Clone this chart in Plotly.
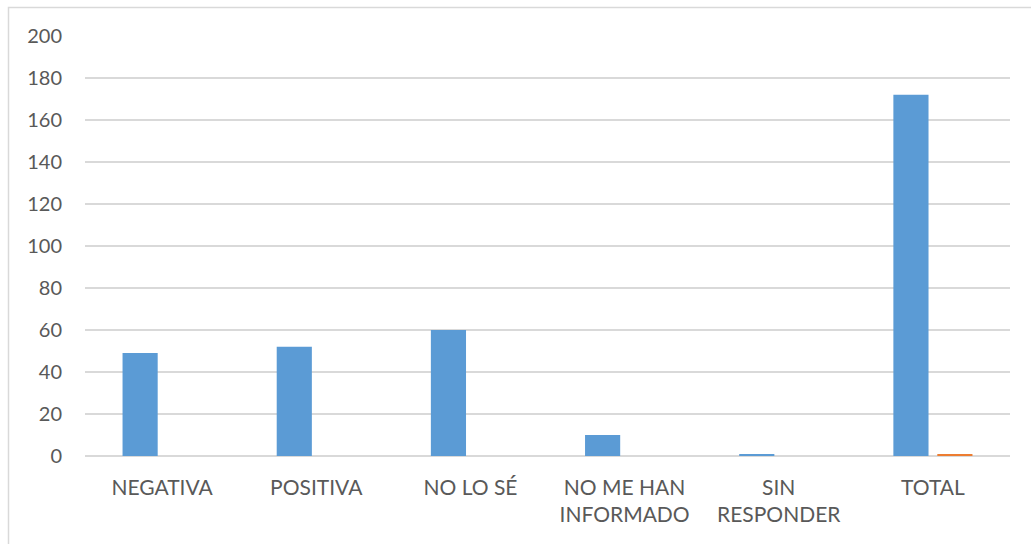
import plotly.graph_objects as go

categories = ["NEGATIVA", "POSITIVA", "NO LO SÉ", "NO ME HAN<br>INFORMADO", "SIN<br>RESPONDER", "TOTAL"]
series_1 = [49, 52, 60, 10, 1, 172]
series_2 = [0, 0, 0, 0, 0, 1]
y_ticks = [0, 20, 40, 60, 80, 100, 120, 140, 160, 180, 200]

BLUE = "#5B9BD5"
ORANGE = "#ED7D31"
TEXT = "#595959"
GRID = "#D9D9D9"

fig = go.Figure()
fig.add_trace(go.Bar(x=categories, y=series_1, marker=dict(color=BLUE, line=dict(width=0)), showlegend=False))
fig.add_trace(go.Bar(x=categories, y=series_2, marker=dict(color=ORANGE, line=dict(width=0)), showlegend=False))

fig.update_layout(
    width=1031, height=544,
    margin=dict(l=85, r=21, t=36, b=88),
    paper_bgcolor="white", plot_bgcolor="white",
    barmode="group", bargap=0.43, bargroupgap=0.2,
    font=dict(family="Lato", size=20, color=TEXT),
    xaxis=dict(showgrid=False, showline=False, ticks="", ticklabelstandoff=17,
               tickfont=dict(family="Lato", size=21, color=TEXT)),
    yaxis=dict(range=[0, 200], tickvals=y_ticks, showgrid=True, gridcolor=GRID, gridwidth=1.5,
               zeroline=True, zerolinecolor=GRID, zerolinewidth=2, showline=False, ticks="",
               ticklabelstandoff=22, tickfont=dict(family="Lato", size=20, color=TEXT)),
    shapes=[dict(type="rect", xref="paper", yref="paper",
                 x0=-0.0827, x1=1.04, y0=-0.26, y1=1.068,
                 line=dict(color="#D9D9D9", width=1.5), fillcolor="rgba(0,0,0,0)", layer="below")],
)

fig.write_html("out.html")
